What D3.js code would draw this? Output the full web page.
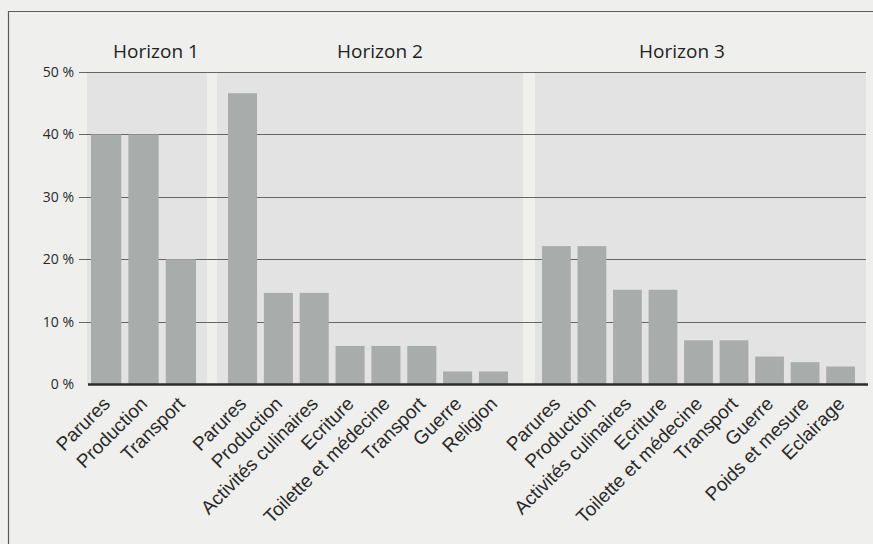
<!DOCTYPE html>
<html>
<head>
<meta charset="utf-8">
<script src="https://cdn.jsdelivr.net/npm/d3@7"></script>
<style>
  html, body { margin: 0; padding: 0; background: #efefed; }
  svg { display: block; }
</style>
</head>
<body>
<svg id="chart" width="873" height="544"></svg>
<script>
// Share of object categories per horizon (%)
const groupTitles = ["Horizon 1", "Horizon 2", "Horizon 3"];

const horizon1Categories = ["Parures", "Production", "Transport"];
const horizon1Values = [40, 40, 20];

const horizon2Categories = ["Parures", "Production", "Activités culinaires", "Ecriture",
  "Toilette et médecine", "Transport", "Guerre", "Religion"];
const horizon2Values = [46.6, 14.6, 14.6, 6.1, 6.1, 6.1, 2.0, 2.0];

const horizon3Categories = ["Parures", "Production", "Activités culinaires", "Ecriture",
  "Toilette et médecine", "Transport", "Guerre", "Poids et mesure", "Eclairage"];
const horizon3Values = [22.1, 22.1, 15.1, 15.1, 7.0, 7.0, 4.4, 3.5, 2.8];

const yTickValues = [0, 10, 20, 30, 40, 50];

// Layout
const W = 873, H = 544;
const yTop = 72, yBase = 384;
const gridX0 = 79, gridX1 = 866;

const groups = [
  { title: groupTitles[0], cats: horizon1Categories, vals: horizon1Values,
    panel: [87, 207], bars: [91, 196], titleX: 156 },
  { title: groupTitles[1], cats: horizon2Categories, vals: horizon2Values,
    panel: [217, 523], bars: [228, 508], titleX: 380 },
  { title: groupTitles[2], cats: horizon3Categories, vals: horizon3Values,
    panel: [535, 866], bars: [542, 855], titleX: 682 }
];

const svg = d3.select("#chart");

const y = d3.scaleLinear().domain([0, 50]).range([yBase, yTop]);

// Outer frame (continues past the right and bottom edges)
svg.append("path")
  .attr("d", `M8.5,${H} V11.5 H${W}`)
  .attr("fill", "none")
  .attr("stroke", "#5a5a5a")
  .attr("stroke-width", 1.2);

// Light grey panels behind each horizon
svg.append("g").selectAll("rect")
  .data(groups)
  .join("rect")
  .attr("x", d => d.panel[0])
  .attr("y", y(50))
  .attr("width", d => d.panel[1] - d.panel[0])
  .attr("height", y(0) - y(50))
  .attr("fill", "#e2e3e2");

// Horizontal gridlines with y-axis labels
const yAxis = d3.axisLeft(y)
  .tickValues(yTickValues)
  .tickSize(0)
  .tickPadding(0)
  .tickFormat(d => d + " %");

const yAxisG = svg.append("g")
  .attr("transform", `translate(${gridX0 - 5},0)`)
  .call(yAxis);
yAxisG.select(".domain").remove();
yAxisG.selectAll("text")
  .attr("font-family", "'Open Sans', sans-serif")
  .attr("font-size", 14)
  .attr("fill", "#2a2a2a");

svg.append("g").selectAll("line")
  .data(yTickValues.filter(v => v > 0))
  .join("line")
  .attr("x1", gridX0)
  .attr("x2", gridX1)
  .attr("y1", d => Math.round(y(d)) + 0.5)
  .attr("y2", d => Math.round(y(d)) + 0.5)
  .attr("stroke", "#666")
  .attr("stroke-width", 1.1);

// Bars and rotated category labels per horizon
groups.forEach(g => {
  const x = d3.scaleBand()
    .domain(g.cats)
    .range(g.bars)
    .paddingInner(0.19)
    .paddingOuter(0);

  const data = g.cats.map((c, i) => ({ cat: c, val: g.vals[i] }));

  svg.append("g").selectAll("rect")
    .data(data)
    .join("rect")
    .attr("x", d => x(d.cat))
    .attr("y", d => y(d.val))
    .attr("width", x.bandwidth())
    .attr("height", d => y(0) - y(d.val))
    .attr("fill", "#a8acaa");

  const xAxis = d3.axisBottom(x).tickSize(0).tickPadding(0);
  const xg = svg.append("g")
    .attr("transform", `translate(0,${yBase})`)
    .call(xAxis);
  xg.select(".domain").remove();
  xg.selectAll("text")
    .attr("font-family", "'Liberation Sans', Arial, sans-serif")
    .attr("font-size", 19)
    .attr("fill", "#2a2a2a")
    .attr("text-anchor", "end")
    .attr("dy", null)
    .attr("y", 0)
    .attr("transform", `translate(5,21) rotate(-45)`);

  svg.append("text")
    .attr("x", g.titleX)
    .attr("y", 58)
    .attr("text-anchor", "middle")
    .attr("font-family", "'Open Sans', sans-serif")
    .attr("font-size", 19)
    .attr("fill", "#222")
    .text(g.title);
});

// Zero baseline
svg.append("line")
  .attr("x1", 88)
  .attr("x2", 868)
  .attr("y1", y(0) + 0.5)
  .attr("y2", y(0) + 0.5)
  .attr("stroke", "#2b2b2b")
  .attr("stroke-width", 2.5);
</script>
</body>
</html>
